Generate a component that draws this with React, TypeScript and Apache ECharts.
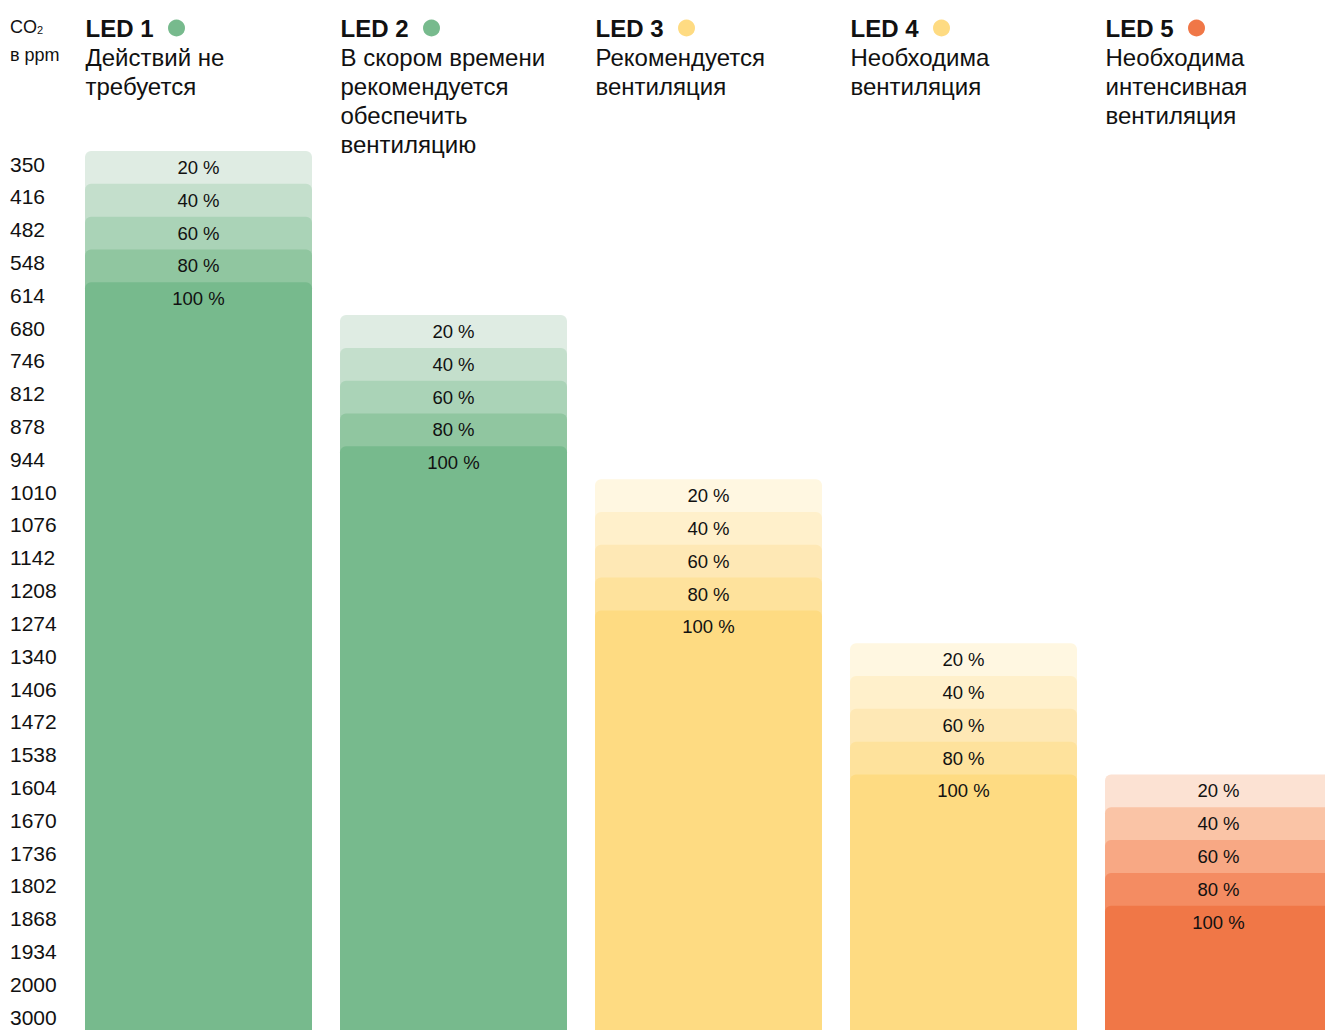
import React, { useEffect, useRef } from "react";
import * as echarts from "echarts";

const levelLabels = [
  "350", "416", "482", "548", "614", "680", "746", "812", "878", "944",
  "1010", "1076", "1142", "1208", "1274", "1340", "1406", "1472", "1538",
  "1604", "1670", "1736", "1802", "1868", "1934", "2000", "3000",
];
const ledNames = ["LED 1", "LED 2", "LED 3", "LED 4", "LED 5"];
const ledTexts = [
  "Действий не\nтребуется",
  "В скором времени\nрекомендуется\nобеспечить\nвентиляцию",
  "Рекомендуется\nвентиляция",
  "Необходима\nвентиляция",
  "Необходима\nинтенсивная\nвентиляция",
];
// level where each LED starts
const ledStartLevel = ["350", "680", "1010", "1340", "1604"];
const percents = [20, 40, 60, 80, 100];
const dotColors = ["#77ba8d", "#77ba8d", "#fedb82", "#fedb82", "#f07747"];
const shades: Record<string, string[]> = {
  green: ["#dfece3", "#c4dfcc", "#aad3b7", "#90c6a0", "#77ba8d"],
  yellow: ["#fff7e1", "#fff0cb", "#fee8b5", "#fee29c", "#fedb82"],
  orange: ["#fce2d3", "#fac4a6", "#f8a884", "#f48c62", "#f07747"],
};
const ledPalette = ["green", "green", "yellow", "yellow", "orange"];

const FONT = "'Liberation Sans', Arial, sans-serif";

export default function App() {
  const ref = useRef<HTMLDivElement>(null);
  useEffect(() => {
    if (!ref.current) return;
    const chart = echarts.init(ref.current, null, { renderer: "svg" });

    const data: any[] = [];
    ledNames.forEach((_, i) => {
      const s = levelLabels.indexOf(ledStartLevel[i]);
      percents.forEach((p, k) => {
        data.push({ value: [i, s + k, p], color: shades[ledPalette[i]][k] });
      });
    });

    const gridLeft = 71;
    const colW = 255;
    const graphics: any[] = [
      {
        type: "text",
        left: 10,
        top: 18,
        style: {
          text: "CO{sub|2}",
          font: `18px ${FONT}`,
          fill: "#111",
          rich: { sub: { fontSize: 11, fontFamily: FONT, fill: "#111", padding: [6, 0, 0, 0] } },
        },
      },
      {
        type: "text",
        left: 10,
        top: 46,
        style: { text: "в ppm", font: `18px ${FONT}`, fill: "#111" },
      },
    ];
    ledNames.forEach((name, i) => {
      const x0 = gridLeft + i * colW + 14.5;
      graphics.push({
        type: "text",
        x: x0,
        y: 28,
        style: {
          text: name,
          font: `bold 24px ${FONT}`,
          fill: "#111",
          verticalAlign: "middle",
        },
      });
      graphics.push({
        type: "circle",
        shape: { cx: x0 + 91, cy: 28, r: 8.5 },
        style: { fill: dotColors[i] },
      });
      graphics.push({
        type: "text",
        x: x0,
        y: 43,
        style: {
          text: ledTexts[i],
          font: `24px ${FONT}`,
          lineHeight: 29,
          fill: "#111",
          verticalAlign: "top",
        },
      });
    });

    chart.setOption({
      animation: false,
      backgroundColor: "#fff",
      grid: { left: gridLeft, top: 147.6, width: colW * 5, height: 886, containLabel: false },
      xAxis: {
        type: "category",
        data: ledNames,
        show: false,
      },
      yAxis: {
        type: "category",
        data: levelLabels,
        inverse: true,
        axisLine: { show: false },
        axisTick: { show: false },
        splitLine: { show: false },
        axisLabel: {
          align: "left",
          margin: gridLeft - 10,
          fontSize: 21,
          fontFamily: FONT,
          color: "#111",
        },
      },
      graphic: graphics,
      series: [
        {
          type: "custom",
          clip: false,
          data,
          encode: { x: 0, y: 1 },
          renderItem: (params: any, api: any) => {
            const pt = api.coord([api.value(0), api.value(1)]);
            const size = api.size([1, 1]);
            const w = size[0] * 0.89;
            const h = size[1];
            const top = pt[1] - h / 2 + 3.4;
            const bottom = params.coordSys.y + params.coordSys.height;
            const item = data[params.dataIndex];
            return {
              type: "group",
              children: [
                {
                  type: "rect",
                  shape: { x: pt[0] - w / 2, y: top, width: w, height: bottom - top, r: [6, 6, 0, 0] },
                  style: { fill: item.color },
                },
                {
                  type: "text",
                  style: {
                    text: api.value(2) + " %",
                    x: pt[0],
                    y: top + h / 2,
                    align: "center",
                    verticalAlign: "middle",
                    font: `18.5px ${FONT}`,
                    fill: "#111",
                  },
                },
              ],
            };
          },
        },
      ],
    });
    return () => chart.dispose();
  }, []);
  return (
    <div
      ref={ref}
      style={{ position: "fixed", left: 0, top: 0, width: 1360, height: 1045 }}
    />
  );
}
